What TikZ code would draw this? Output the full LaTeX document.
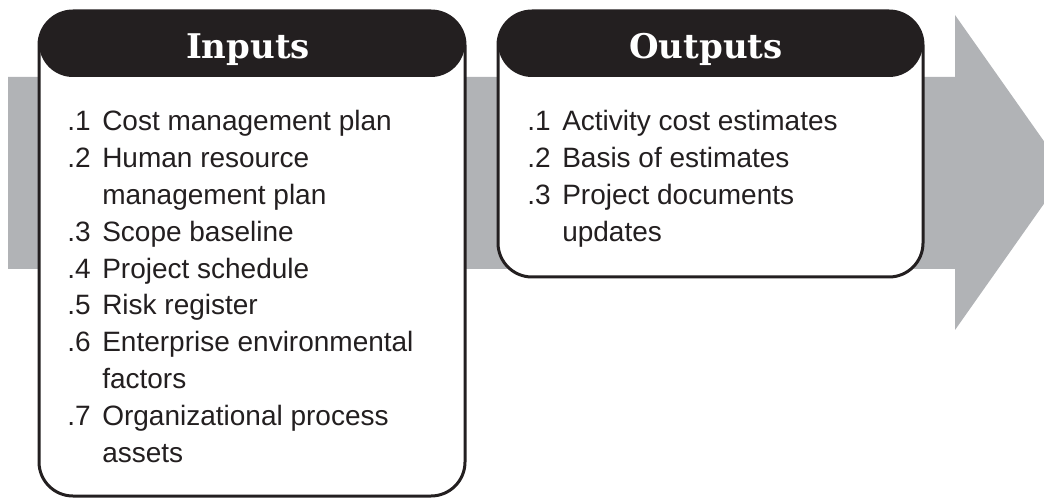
\documentclass[tikz,border=0pt]{standalone}
\usepackage{fontspec}
\setmainfont{Liberation Sans}
\newfontfamily\headfont{DejaVu Serif}
\definecolor{band}{HTML}{B1B3B6}
\definecolor{ink}{HTML}{231F20}
\newcommand\itemnum[1]{\makebox[26.25pt][l]{#1}}
\tikzset{
  box/.style={draw=ink, line width=2.25pt, fill=white, rounded corners=25.5pt,
    inner sep=0pt, outer sep=0pt, anchor=north west,
    path picture={\fill[ink] (path picture bounding box.north west) rectangle ([yshift=-49.5pt]path picture bounding box.north east);}},
  head/.style={text=white, anchor=base, inner sep=0pt, font=\headfont\bfseries\fontsize{25.5}{30}\selectfont},
  item/.style={text=ink, anchor=base west, inner sep=0pt, font=\fontsize{21}{27.6}\selectfont},
}
\begin{document}
\begin{tikzpicture}[x=0.75pt,y=-0.75pt]
\useasboundingbox (0,0) rectangle (1044,498);
\clip (0,0) rectangle (1044,498);
% arrow
\fill[band] (8,77) -- (955,77) -- (955,15) -- (1066,172.5) -- (955,330) -- (955,269) -- (8,269) -- cycle;
% boxes
\node[box, minimum width=319.5pt, minimum height=363.75pt] (inbox) at (39,11) {};
\node[box, minimum width=318.75pt, minimum height=199.5pt] (outbox) at (498,11) {};
% headers
\node[head] (inhead) at (248,59) {Inputs};
\node[head] (outhead) at (706,59) {Outputs};
% inputs
\node[item] (in1) at (67,131) {\itemnum{.1}Cost management plan};
\node[item] (in2) at (67,167.8) {\itemnum{.2}Human resource};
\node[item] (in3) at (67,204.6) {\itemnum{}management plan};
\node[item] (in4) at (67,241.4) {\itemnum{.3}Scope baseline};
\node[item] (in5) at (67,278.2) {\itemnum{.4}Project schedule};
\node[item] (in6) at (67,315) {\itemnum{.5}Risk register};
\node[item] (in7) at (67,351.8) {\itemnum{.6}Enterprise environmental};
\node[item] (in8) at (67,388.6) {\itemnum{}factors};
\node[item] (in9) at (67,425.4) {\itemnum{.7}Organizational process};
\node[item] (in10) at (67,462.2) {\itemnum{}assets};
% outputs
\node[item] (out1) at (527,131) {\itemnum{.1}Activity cost estimates};
\node[item] (out2) at (527,167.8) {\itemnum{.2}Basis of estimates};
\node[item] (out3) at (527,204.6) {\itemnum{.3}Project documents};
\node[item] (out4) at (527,241.4) {\itemnum{}updates};
\end{tikzpicture}
\end{document}
